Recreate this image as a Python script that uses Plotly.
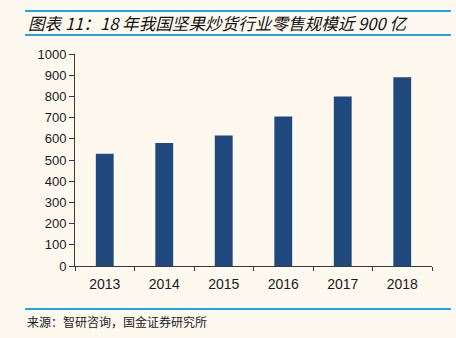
import plotly.graph_objects as go

# Nut & roasted-seed retail market size, 100 million RMB
years = ["2013", "2014", "2015", "2016", "2017", "2018"]
retail_scale = [530, 580, 615, 705, 800, 890]
y_ticks = list(range(0, 1001, 100))

title_text = "图表 11：18 年我国坚果炒货行业零售规模近 900 亿"
source_text = "来源：智研咨询，国金证券研究所"

bg = "#FDF9EF"
bar_color = "#1F497D"
rule_color = "#22A0E4"
axis_color = "#3A3A3A"

fig = go.Figure(
    go.Bar(
        x=years,
        y=retail_scale,
        marker=dict(color=bar_color, line=dict(width=0)),
        hoverinfo="x+y",
    )
)

fig.update_layout(
    width=456,
    height=338,
    margin=dict(l=75, r=24, t=54, b=72),
    paper_bgcolor=bg,
    plot_bgcolor=bg,
    bargap=0.7,
    showlegend=False,
    font=dict(family="Liberation Sans, Arial, sans-serif", size=12, color="#1A1A1A"),
    xaxis=dict(
        type="category",
        showline=True,
        linecolor=axis_color,
        linewidth=1,
        ticks="outside",
        tickson="boundaries",
        ticklen=4,
        tickcolor=axis_color,
        showgrid=False,
        ticklabelstandoff=5,
        tickfont=dict(size=14),
    ),
    yaxis=dict(
        range=[0, 1000],
        tickvals=y_ticks,
        showline=True,
        linecolor=axis_color,
        linewidth=1,
        ticks="outside",
        ticklen=5,
        tickcolor=axis_color,
        showgrid=False,
        zeroline=False,
        tickfont=dict(size=13),
    ),
    shapes=[
        # rules framing the heading and the footer
        dict(type="line", xref="paper", yref="paper", x0=-0.14, x1=1.053, y0=1.203, y1=1.203,
             line=dict(color=rule_color, width=2)),
        dict(type="line", xref="paper", yref="paper", x0=-0.14, x1=1.053, y0=1.090, y1=1.090,
             line=dict(color=rule_color, width=2)),
        dict(type="line", xref="paper", yref="paper", x0=-0.14, x1=1.053, y0=-0.203, y1=-0.203,
             line=dict(color=rule_color, width=2)),
    ],
    annotations=[
        dict(text=title_text, xref="paper", yref="paper", x=-0.137, y=1.148,
             xanchor="left", yanchor="middle", showarrow=False,
             font=dict(family="Noto Sans CJK SC", size=16.6, color="#111111",
                       style="italic", weight="normal")),
        dict(text=source_text, xref="paper", yref="paper", x=-0.14, y=-0.264,
             xanchor="left", yanchor="middle", showarrow=False,
             font=dict(family="Noto Sans CJK SC", size=12, color="#222222")),
    ],
)

fig.write_html("out.html")
